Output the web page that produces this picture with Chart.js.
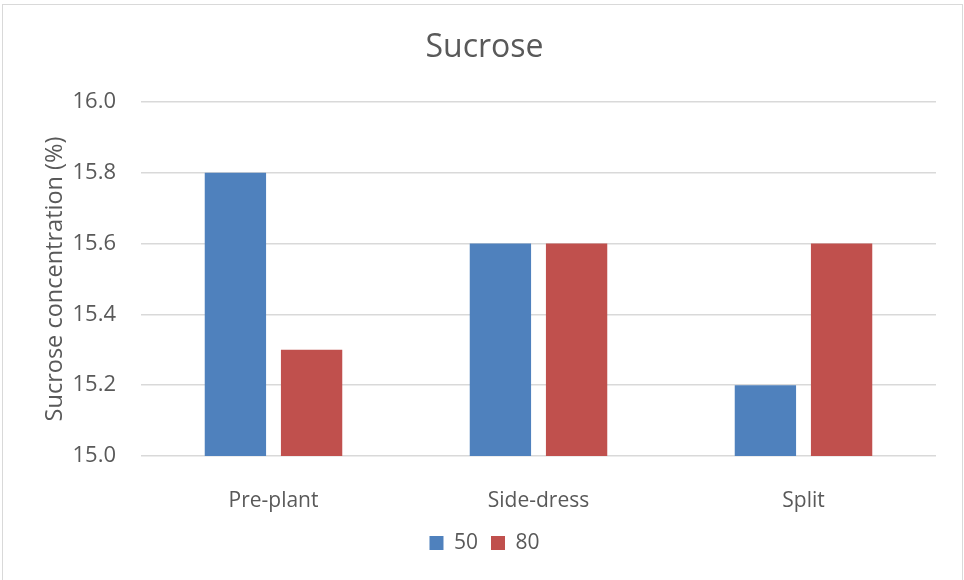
<!DOCTYPE html>
<html>
<head>
<meta charset="utf-8">
<script src="https://cdn.jsdelivr.net/npm/chart.js@4/dist/chart.umd.min.js"></script>
<style>
  html, body { margin: 0; padding: 0; background: #ffffff; }
  #wrap { position: relative; width: 964px; height: 580px; }
</style>
</head>
<body>
<div id="wrap"><canvas id="chart" width="964" height="580"></canvas></div>
<script>
// Sucrose concentration by nitrogen timing and rate
const categories = ['Pre-plant', 'Side-dress', 'Split'];
const seriesNames = ['50', '80'];
const values50 = [15.8, 15.6, 15.2];
const values80 = [15.3, 15.6, 15.6];
const yTicks = [15.0, 15.2, 15.4, 15.6, 15.8, 16.0];

const TEXT = '#595959';
const FONT = "'Open Sans', sans-serif";

// white page with a thin grey frame around the chart
const framePlugin = {
  id: 'frame',
  beforeDraw(chart) {
    const ctx = chart.ctx;
    ctx.save();
    ctx.fillStyle = '#ffffff';
    ctx.fillRect(0, 0, chart.width, chart.height);
    ctx.strokeStyle = '#d9d9d9';
    ctx.lineWidth = 1;
    ctx.strokeRect(2.5, 4.5, 960, 590);
    ctx.restore();
  }
};

new Chart(document.getElementById('chart'), {
  type: 'bar',
  data: {
    labels: categories,
    datasets: [
      { label: seriesNames[0], data: values50, backgroundColor: '#4F81BD',
        categoryPercentage: 0.575, barPercentage: 0.805 },
      { label: seriesNames[1], data: values80, backgroundColor: '#C0504D',
        categoryPercentage: 0.575, barPercentage: 0.805 }
    ]
  },
  plugins: [framePlugin],
  options: {
    responsive: false,
    animation: false,
    layout: { padding: { left: 33, right: 28, top: 0, bottom: 16.5 } },
    plugins: {
      title: {
        display: true,
        text: 'Sucrose',
        color: TEXT,
        font: { family: FONT, size: 32, weight: 'normal' },
        padding: { top: 29, bottom: 34.6 }
      },
      legend: {
        position: 'bottom',
        labels: {
          color: TEXT,
          font: { family: FONT, size: 21 },
          boxWidth: 14,
          boxHeight: 14,
          padding: 13
        }
      },
      tooltip: { enabled: false }
    },
    scales: {
      x: {
        grid: { display: false },
        border: { display: false },
        ticks: {
          color: TEXT,
          font: { family: FONT, size: 21 },
          padding: 24,
          maxRotation: 0
        },
        afterFit(scale) { scale.height = 63.5; }
      },
      y: {
        min: 15,
        max: 16,
        afterBuildTicks(scale) { scale.ticks = yTicks.map(v => ({ value: v })); },
        grid: { color: '#d9d9d9', lineWidth: 1.5, drawTicks: false },
        border: { display: false },
        ticks: {
          color: TEXT,
          font: { family: FONT, size: 22 },
          padding: 25,
          callback: v => Number(v).toFixed(1)
        },
        title: {
          display: true,
          text: 'Sucrose concentration (%)',
          color: TEXT,
          font: { family: FONT, size: 23.5 },
          padding: { top: 8, bottom: 0 }
        },
        afterFit(scale) { scale.width = 108; }
      }
    }
  }
});
</script>
</body>
</html>
